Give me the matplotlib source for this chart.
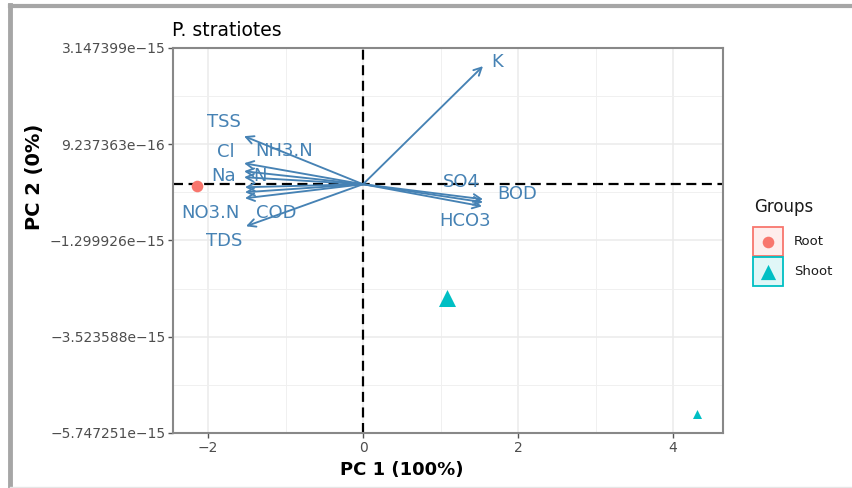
import numpy as np
import matplotlib
matplotlib.use("Agg")
import matplotlib.pyplot as plt
from matplotlib.patches import Rectangle, FancyArrowPatch
from matplotlib.ticker import FixedLocator

# variable loadings (arrow tips); PC2 given in units of 1e-15
variables = ['TSS', 'NH3.N', 'Cl', 'Na', 'N', 'NO3.N', 'COD', 'TDS',
             'K', 'SO4', 'BOD', 'HCO3']
load_pc1 = [-1.535, -1.535, -1.535, -1.535, -1.523, -1.523, -1.523, -1.510,
            1.548, 1.548, 1.548, 1.535]
load_pc2 = [1.110, 0.300, 0.485, 0.162, -0.069, -0.185, -0.324, -0.971,
            2.728, -0.347, -0.416, -0.509]

# sample scores
groups = ['Root', 'Shoot', 'Shoot']
score_pc1 = [-2.14, 1.08, 4.31]
score_pc2 = [-0.046, -2.635, -5.316]
point_size = [70, 150, 42]

ytick_vals = [3.147399e-15, 9.237363e-16, -1.299926e-15, -3.523588e-15, -5.747251e-15]
ytick_labels = ['3.147399e\u221215', '9.237363e\u221216', '\u22121.299926e\u221215',
                '\u22123.523588e\u221215', '\u22125.747251e\u221215']
xtick_vals = [-2, 0, 2, 4]

colors = {'Root': '#F8766D', 'Shoot': '#00BFC4'}
markers = {'Root': 'o', 'Shoot': '^'}
arrow_col = '#4682B4'

# label offsets from arrow tips, in pixels (x right, y up)
label_dx = [-20, 40, -18, -21, 15, -35, 31, -22, 14, -22, 34, -17]
label_dy = [14, 20, 11, 1, 11, -21, -15, -15, 4, 17, 8, -15]

W, H = 853, 488
fig = plt.figure(figsize=(W / 100, H / 100), dpi=100)

def box(l, t, r, b):
    return [l / W, 1 - b / H, (r - l) / W, (b - t) / H]

ax = fig.add_axes(box(173, 48, 723, 433))
pc2 = np.array(load_pc2) * 1e-15
sc2 = np.array(score_pc2) * 1e-15

ax.set_xlim(-2.452, 4.645)
ax.set_ylim(-5.747251e-15, 3.147399e-15)
ax.xaxis.set_major_locator(FixedLocator(xtick_vals))
ax.xaxis.set_minor_locator(FixedLocator([-1, 1, 3]))
ax.set_xticklabels([str(v).replace('-', '\u2212') for v in xtick_vals])
ax.yaxis.set_major_locator(FixedLocator(ytick_vals))
ax.yaxis.set_minor_locator(FixedLocator(
    [(ytick_vals[i] + ytick_vals[i + 1]) / 2 for i in range(len(ytick_vals) - 1)]))
ax.set_yticklabels(ytick_labels)
ax.tick_params(which='major', length=3.5, width=1, color='#555555',
               labelsize=10, labelcolor='#4d4d4d', pad=2)
ax.tick_params(which='minor', length=0)
ax.grid(which='major', color='#ebebeb', lw=1.1)
ax.grid(which='minor', color='#f0f0f0', lw=0.7)
ax.set_axisbelow(True)
for s in ax.spines.values():
    s.set_color('#888888')
    s.set_linewidth(1.5)

ax.axhline(0, color='black', lw=1.6, ls=(0, (4.5, 2.5)), zorder=2)
ax.axvline(0, color='black', lw=1.6, ls=(0, (4.5, 2.5)), zorder=2)

for g, x, y, s in zip(groups, score_pc1, sc2, point_size):
    ax.scatter(x, y, s=s, c=colors[g], marker=markers[g], linewidths=0, zorder=3)

for name, x, y, dx, dy in zip(variables, load_pc1, pc2, label_dx, label_dy):
    ax.add_patch(FancyArrowPatch((0, 0), (x, y), arrowstyle='->,head_length=5.5,head_width=2.8',
                                 color=arrow_col, lw=1.35, shrinkA=0, shrinkB=0, zorder=4))
    ax.annotate(name, (x, y), xytext=(dx, dy), textcoords='offset pixels',
                ha='center', va='center', fontsize=13, color=arrow_col, zorder=5)

# page overlay in pixel coordinates: frame, titles, legend
ov = fig.add_axes([0, 0, 1, 1], facecolor='none')
ov.set_xlim(0, W)
ov.set_ylim(H, 0)
ov.axis('off')
ov.plot([10.5, 10.5], [5, H], color='#a6a6a6', lw=3.5)
ov.plot([10, W], [5.5, 5.5], color='#a6a6a6', lw=3)
ov.plot([10, W], [487, 487], color='#e6e6e6', lw=1)

ov.text(172, 30, 'P. stratiotes', fontsize=13.5, ha='left', va='center', color='black')
ov.text(402, 470, 'PC 1 (100%)', fontsize=13, fontweight='bold', ha='center', va='center')
ov.text(35, 177, 'PC 2 (0%)', fontsize=14, fontweight='bold', ha='center', va='center',
        rotation=90)

ov.text(754, 207, 'Groups', fontsize=12, ha='left', va='center', color='#1a1a1a')
for i, g in enumerate(['Root', 'Shoot']):
    top = 227 + i * 30
    ov.add_patch(Rectangle((753, top), 30, 29, facecolor=colors[g], alpha=0.12,
                           edgecolor='none'))
    ov.add_patch(Rectangle((753, top), 30, 29, facecolor='none', edgecolor=colors[g],
                           lw=1.3))
    ov.scatter(768, top + 14.5, s=70 if g == 'Root' else 120, c=colors[g],
               marker=markers[g], linewidths=0)
    ov.text(794, top + 14.5, g, fontsize=9.5, ha='left', va='center', color='#1a1a1a')

fig.savefig('out.png', dpi=100)
